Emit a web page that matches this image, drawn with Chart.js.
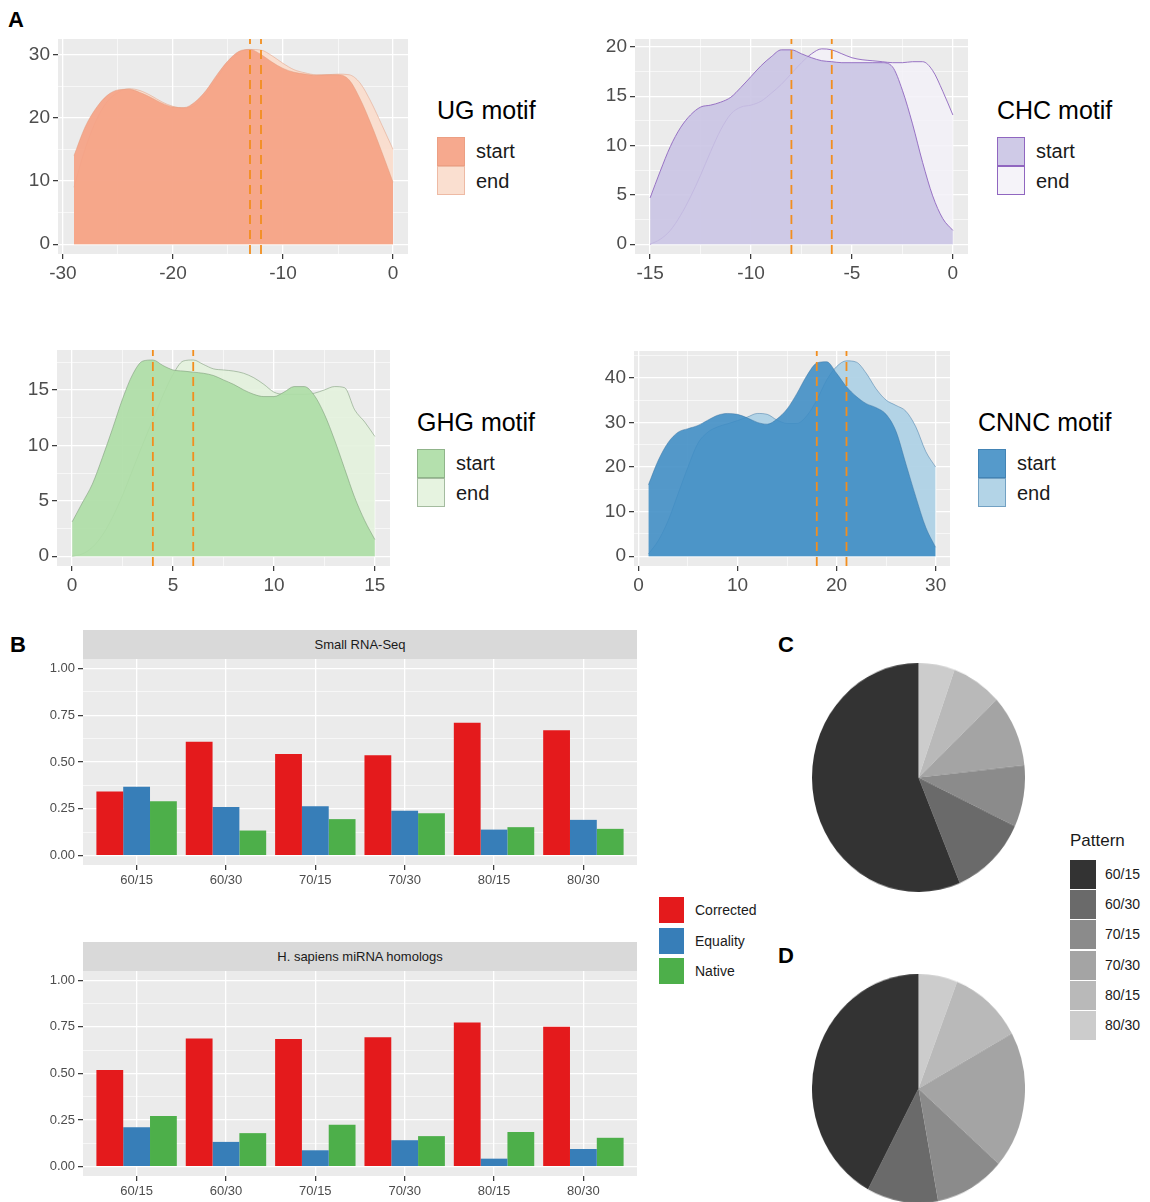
<!DOCTYPE html>
<html>
<head>
<meta charset="utf-8">
<script src="https://cdn.jsdelivr.net/npm/chart.js@4.4.0/dist/chart.umd.min.js"></script>
<style>
  body { margin: 0; background: #fff; }
  #fig { position: relative; width: 1150px; height: 1202px; overflow: hidden; font-family: 'Liberation Sans', Arial, sans-serif; color: #1a1a1a; }
  #fig canvas { position: absolute; }
  .t { position: absolute; white-space: nowrap; line-height: 1; }
  .k { position: absolute; box-sizing: border-box; }
  .strip { position: absolute; background: #d9d9d9; font-size: 13px; color: #1a1a1a; text-align: center; }
</style>
</head>
<body>
<div id="fig"></div>
<script>
// A: density of motif positions
const ugX = [-29,-28,-27,-26,-25,-24,-23,-22,-21,-20,-19,-18,-17,-16,-15,-14,-13,-12,-11,-10,-9,-8,-7,-6,-5,-4,-3,-2,-1,0]
const ugStart = [14,18.5,21.5,23.5,24.4,24.5,24,23.2,22.3,21.7,21.6,22.5,24.3,26.8,29,30.5,30.8,30,28.8,27.8,27.2,26.9,26.7,26.8,26.8,26,23,19,14.5,9.8]
const ugEnd = [9,15,19.5,22.5,24,24.6,24.3,23.5,22.5,21.8,21.5,22,23.8,26.3,28.7,30.3,30.8,30.7,29.8,28.6,27.6,27.1,26.8,26.8,26.9,26.8,25.5,22.5,18.8,15]
const ugMarks = [-13, -12]
const ugXTicks = [-30, -20, -10, 0]
const ugYTicks = [0, 10, 20, 30]

const chcX = [-15,-14.5,-14,-13.5,-13,-12.5,-12,-11.5,-11,-10.5,-10,-9.5,-9,-8.5,-8,-7.5,-7,-6.5,-6,-5.5,-5,-4.5,-4,-3.5,-3,-2.5,-2,-1.5,-1,-0.5,0]
const chcStart = [4.7,7.4,9.9,11.8,13.1,13.9,14.1,14.4,14.9,15.9,17,18.1,19,19.7,19.7,19.3,18.9,18.6,18.5,18.4,18.4,18.4,18.4,18.4,18,15.6,12.2,8.3,4.9,2.6,1.4]
const chcEnd = [0,0.5,1.4,2.9,4.8,7,9.4,11.6,13.2,13.9,14.1,14.5,15.3,16.2,17.3,18.4,19.3,19.8,19.7,19.3,18.9,18.7,18.6,18.5,18.4,18.4,18.5,18.5,17.6,15.5,13.1]
const chcMarks = [-8, -6]
const chcXTicks = [-15, -10, -5, 0]
const chcYTicks = [0, 5, 10, 15, 20]

const ghgX = [0,0.5,1,1.5,2,2.5,3,3.5,4,4.5,5,5.5,6,6.5,7,7.5,8,8.5,9,9.5,10,10.5,11,11.5,12,12.5,13,13.5,14,14.5,15]
const ghgStart = [3.1,4.8,6.5,8.9,11.5,14.2,16.4,17.6,17.7,17.2,16.8,16.7,16.6,16.5,16.3,15.9,15.5,15,14.6,14.4,14.4,14.8,15.3,15.3,14.5,12.8,10.5,7.9,5.3,3.2,1.5]
const ghgEnd = [0,0.2,0.8,1.9,3.5,5.5,7.8,10.1,12.3,14.5,16.4,17.6,17.7,17.3,16.9,16.8,16.7,16.5,16.1,15.5,14.8,14.6,14.6,14.6,14.7,15,15.3,15.2,13.2,12.1,10.8]
const ghgMarks = [4, 6]
const ghgXTicks = [0, 5, 10, 15]
const ghgYTicks = [0, 5, 10, 15]

const cnncX = [1,2,3,4,5,6,7,8,9,10,11,12,13,14,15,16,17,18,19,20,21,22,23,24,25,26,27,28,29,30]
const cnncStart = [16,21.5,25.5,27.8,28.6,29.3,30.5,31.6,32,31.8,31,30,29.6,30.8,33,36.5,40.5,43.3,43.6,41,38,35.8,34.2,33.3,31.8,28,20.7,13.3,6.5,2]
const cnncEnd = [0.5,3.5,8,14,20,25.3,27.8,29,29.7,30.4,31.2,32,31.8,30.5,29.8,29.8,31.5,35,39.5,42.5,43.8,43.5,41,37.5,35,33.8,32.5,29,23.5,20]
const cnncMarks = [18, 21]
const cnncXTicks = [0, 10, 20, 30]
const cnncYTicks = [0, 10, 20, 30, 40]

// B: share of each method per pattern
const patterns = ['60/15', '60/30', '70/15', '70/30', '80/15', '80/30']
const methods = ['Corrected', 'Equality', 'Native']
const smallCorrected = [0.343, 0.608, 0.543, 0.536, 0.709, 0.67]
const smallEquality = [0.368, 0.26, 0.264, 0.24, 0.139, 0.191]
const smallNative = [0.291, 0.134, 0.195, 0.227, 0.152, 0.143]
const hsaCorrected = [0.519, 0.688, 0.685, 0.694, 0.773, 0.751]
const hsaEquality = [0.211, 0.133, 0.088, 0.142, 0.043, 0.095]
const hsaNative = [0.272, 0.18, 0.225, 0.164, 0.186, 0.155]
const barXTicks = [1, 2, 3, 4, 5, 6]
const barYTicks = [0, 0.25, 0.5, 0.75, 1]

// C / D: pattern shares (percent)
const pieC = [56.4, 11.7, 8.7, 10.2, 7.6, 5.5]
const pieD = [42.1, 10.8, 10.6, 19.4, 11.1, 5.9]

const greys = ['#333333', '#6a6a6a', '#8b8b8b', '#a4a4a4', '#b9b9b9', '#cccccc']
const methodColors = ['#e41a1c', '#377eb8', '#4daf4a']

const fig = document.getElementById('fig')

const panelBg = {
  id: 'panelBg',
  beforeDraw(chart) {
    const { ctx, chartArea: a } = chart
    ctx.save()
    ctx.fillStyle = '#ebebeb'
    ctx.fillRect(a.left, a.top, a.right - a.left, a.bottom - a.top)
    ctx.restore()
  },
}

function makeCanvas(area, yw, top, right, xh) {
  const c = document.createElement('canvas')
  const w = area.r - area.l + yw + right
  const h = area.b - area.t + top + xh
  c.width = w
  c.height = h
  c.style.left = area.l - yw + 'px'
  c.style.top = area.t - top + 'px'
  c.style.width = w + 'px'
  c.style.height = h + 'px'
  fig.appendChild(c)
  return c
}

function text(x, yc, str, size, extra) {
  const d = document.createElement('div')
  d.className = 't'
  d.textContent = str
  d.style.left = x + 'px'
  d.style.top = yc - size / 2 + 'px'
  d.style.fontSize = size + 'px'
  if (extra) Object.assign(d.style, extra)
  fig.appendChild(d)
}

function key(x, y, w, h, bg, border) {
  const d = document.createElement('div')
  d.className = 'k'
  Object.assign(d.style, { left: x + 'px', top: y + 'px', width: w + 'px', height: h + 'px', background: bg })
  if (border) d.style.border = '1px solid ' + border
  fig.appendChild(d)
}

function minorsOf(major, min, max) {
  const step = major[1] - major[0]
  const out = []
  for (let v = major[0] - step / 2; v <= max; v += step) if (v >= min) out.push(v)
  return out
}

function axis(pos, min, max, major, size, font, fmt, withMinor = true) {
  const minor = withMinor ? minorsOf(major, min, max) : []
  const ticks = major.map((v) => ({ value: v }))
    .concat(minor.map((v) => ({ value: v, minor: true })))
    .sort((a, b) => a.value - b.value)
  return {
    type: 'linear',
    position: pos,
    min,
    max,
    bounds: 'data',
    offset: false,
    afterBuildTicks: (s) => { s.ticks = ticks.map((t) => ({ ...t })) },
    afterFit: (s) => {
      if (pos === 'left') s.width = size
      else s.height = size
      s.paddingLeft = s.paddingRight = s.paddingTop = s.paddingBottom = 0
    },
    border: { display: false },
    grid: {
      offset: false,
      color: '#ffffff',
      lineWidth: (c) => (c.tick && c.tick.minor ? 0.6 : 1.3),
      tickColor: (c) => (c.tick && c.tick.minor ? 'rgba(0,0,0,0)' : '#333333'),
      tickLength: 5,
      tickWidth: 1.2,
    },
    ticks: {
      autoSkip: false,
      maxRotation: 0,
      padding: 3,
      color: '#4d4d4d',
      font,
      callback: (v, i, t) => (t[i].minor ? '' : fmt(v)),
    },
  }
}

const densFont = { family: "'Liberation Sans', Arial, sans-serif", size: 19 }

function density(p) {
  const c = makeCanvas(p.area, 58, 6, 4, 40)
  const pts = (ys) => p.x.map((x, i) => ({ x, y: ys[i] }))
  const marks = p.marks.map((m) => ({
    data: [{ x: m, y: p.yr[0] }, { x: m, y: p.yr[1] }],
    borderColor: '#f28e1e',
    borderWidth: 1.8,
    borderDash: [9, 6],
    pointRadius: 0,
    fill: false,
    tension: 0,
  }))
  new Chart(c, {
    type: 'line',
    data: {
      datasets: [
        ...marks,
        { data: pts(p.start), fill: 'origin', backgroundColor: p.col[0], borderColor: p.col[2], borderWidth: 0.9, pointRadius: 0, cubicInterpolationMode: 'monotone' },
        { data: pts(p.end), fill: 'origin', backgroundColor: p.col[1], borderColor: p.col[2], borderWidth: 0.9, pointRadius: 0, cubicInterpolationMode: 'monotone' },
      ],
    },
    options: {
      responsive: false,
      animation: false,
      events: [],
      layout: { padding: { top: 6, right: 4 } },
      plugins: { legend: { display: false }, tooltip: { enabled: false } },
      scales: {
        x: axis('bottom', p.xr[0], p.xr[1], p.xTicks, 40, densFont, (v) => String(v)),
        y: axis('left', p.yr[0], p.yr[1], p.yTicks, 58, densFont, (v) => String(v)),
      },
    },
    plugins: [panelBg],
  })
  // legend
  const L = p.legend
  text(L.x, L.y, p.title, 25, { color: '#000' })
  key(L.x, L.y + 27, 28, 29, p.col[0], p.col[2])
  key(L.x, L.y + 56, 28, 29, p.col[1], p.col[2])
  text(L.x + 39, L.y + 41, 'start', 20)
  text(L.x + 39, L.y + 71, 'end', 20)
}

density({ area: { l: 58, r: 408, t: 39, b: 254 }, x: ugX, start: ugStart, end: ugEnd, marks: ugMarks,
  xr: [-30.45, 1.36], yr: [-1.55, 32.45], xTicks: ugXTicks, yTicks: ugYTicks,
  col: ['rgba(245,162,132,0.92)', 'rgba(250,220,204,0.92)', 'rgba(225,150,120,0.5)'],
  title: 'UG motif', legend: { x: 437, y: 110 } })

density({ area: { l: 635, r: 968, t: 39, b: 254 }, x: chcX, start: chcStart, end: chcEnd, marks: chcMarks,
  xr: [-15.75, 0.75], yr: [-0.99, 20.8], xTicks: chcXTicks, yTicks: chcYTicks,
  col: ['rgba(200,195,228,0.88)', 'rgba(243,241,248,0.85)', '#9066c0'],
  title: 'CHC motif', legend: { x: 997, y: 110 } })

density({ area: { l: 57, r: 390, t: 350, b: 566 }, x: ghgX, start: ghgStart, end: ghgEnd, marks: ghgMarks,
  xr: [-0.75, 15.75], yr: [-0.885, 18.6], xTicks: ghgXTicks, yTicks: ghgYTicks,
  col: ['rgba(174,221,166,0.92)', 'rgba(227,242,221,0.9)', 'rgba(120,150,115,0.6)'],
  title: 'GHG motif', legend: { x: 417, y: 422 } })

density({ area: { l: 634, r: 950, t: 351, b: 566 }, x: cnncX, start: cnncStart, end: cnncEnd, marks: cnncMarks,
  xr: [-0.45, 31.45], yr: [-2.19, 46], xTicks: cnncXTicks, yTicks: cnncYTicks,
  col: ['rgba(62,140,196,0.88)', 'rgba(172,208,229,0.92)', 'rgba(50,110,160,0.5)'],
  title: 'CNNC motif', legend: { x: 978, y: 422 } })

// B
const barFont = { family: "'Liberation Sans', Arial, sans-serif", size: 13 }

function bars(area, strip, series) {
  const s = document.createElement('div')
  s.className = 'strip'
  Object.assign(s.style, { left: area.l + 'px', top: strip[0] + 'px', width: area.r - area.l + 'px', height: strip[1] - strip[0] + 'px', lineHeight: strip[1] - strip[0] + 'px' })
  s.textContent = strip[2]
  fig.appendChild(s)
  const c = makeCanvas(area, 83, 2, 4, 26)
  new Chart(c, {
    type: 'bar',
    data: {
      datasets: series.map((vals, k) => ({
        label: methods[k],
        data: vals.map((v, i) => ({ x: barXTicks[i], y: v })),
        backgroundColor: methodColors[k],
        borderWidth: 0,
        categoryPercentage: 0.9,
        barPercentage: 1,
      })),
    },
    options: {
      responsive: false,
      animation: false,
      events: [],
      layout: { padding: { top: 2, right: 4 } },
      plugins: { legend: { display: false }, tooltip: { enabled: false } },
      scales: {
        x: axis('bottom', 0.4, 6.6, barXTicks, 26, barFont, (v) => patterns[v - 1], false),
        y: axis('left', -0.05, 1.05, barYTicks, 83, barFont, (v) => v.toFixed(2)),
      },
    },
    plugins: [panelBg],
  })
}
bars({ l: 83, r: 637, t: 659, b: 865 }, [630, 659, 'Small RNA-Seq'], [smallCorrected, smallEquality, smallNative])
bars({ l: 83, r: 637, t: 971, b: 1176 }, [942, 971, 'H. sapiens miRNA homologs'], [hsaCorrected, hsaEquality, hsaNative])

methods.forEach((m, k) => {
  key(659, 897 + k * 30.5, 25, 26, methodColors[k])
  text(695, 910 + k * 30.5, m, 14)
})

// C, D
function pie(left, top, vals) {
  const c = document.createElement('canvas')
  c.width = 213
  c.height = 213
  Object.assign(c.style, { left: left + 'px', top: top + 'px', width: '213px', height: '229px' })
  fig.appendChild(c)
  new Chart(c, {
    type: 'pie',
    data: {
      labels: patterns.slice().reverse(),
      datasets: [{ data: vals.slice().reverse(), backgroundColor: greys.slice().reverse(), borderWidth: 0 }],
    },
    options: {
      responsive: false,
      animation: false,
      events: [],
      layout: { padding: 0 },
      plugins: { legend: { display: false }, tooltip: { enabled: false } },
    },
  })
}
pie(812, 663, pieC)
pie(812, 974, pieD)

text(1070, 840, 'Pattern', 17)
patterns.forEach((p, i) => {
  key(1070, 860 + i * 30.2, 26, 29, greys[i])
  text(1105, 874 + i * 30.2, p, 14)
})

// panel letters
const bold = { fontWeight: 'bold', color: '#000' }
text(8, 20, 'A', 22, bold)
text(10, 645, 'B', 22, bold)
text(778, 645, 'C', 22, bold)
text(778, 956, 'D', 22, bold)
</script>
</body>
</html>
